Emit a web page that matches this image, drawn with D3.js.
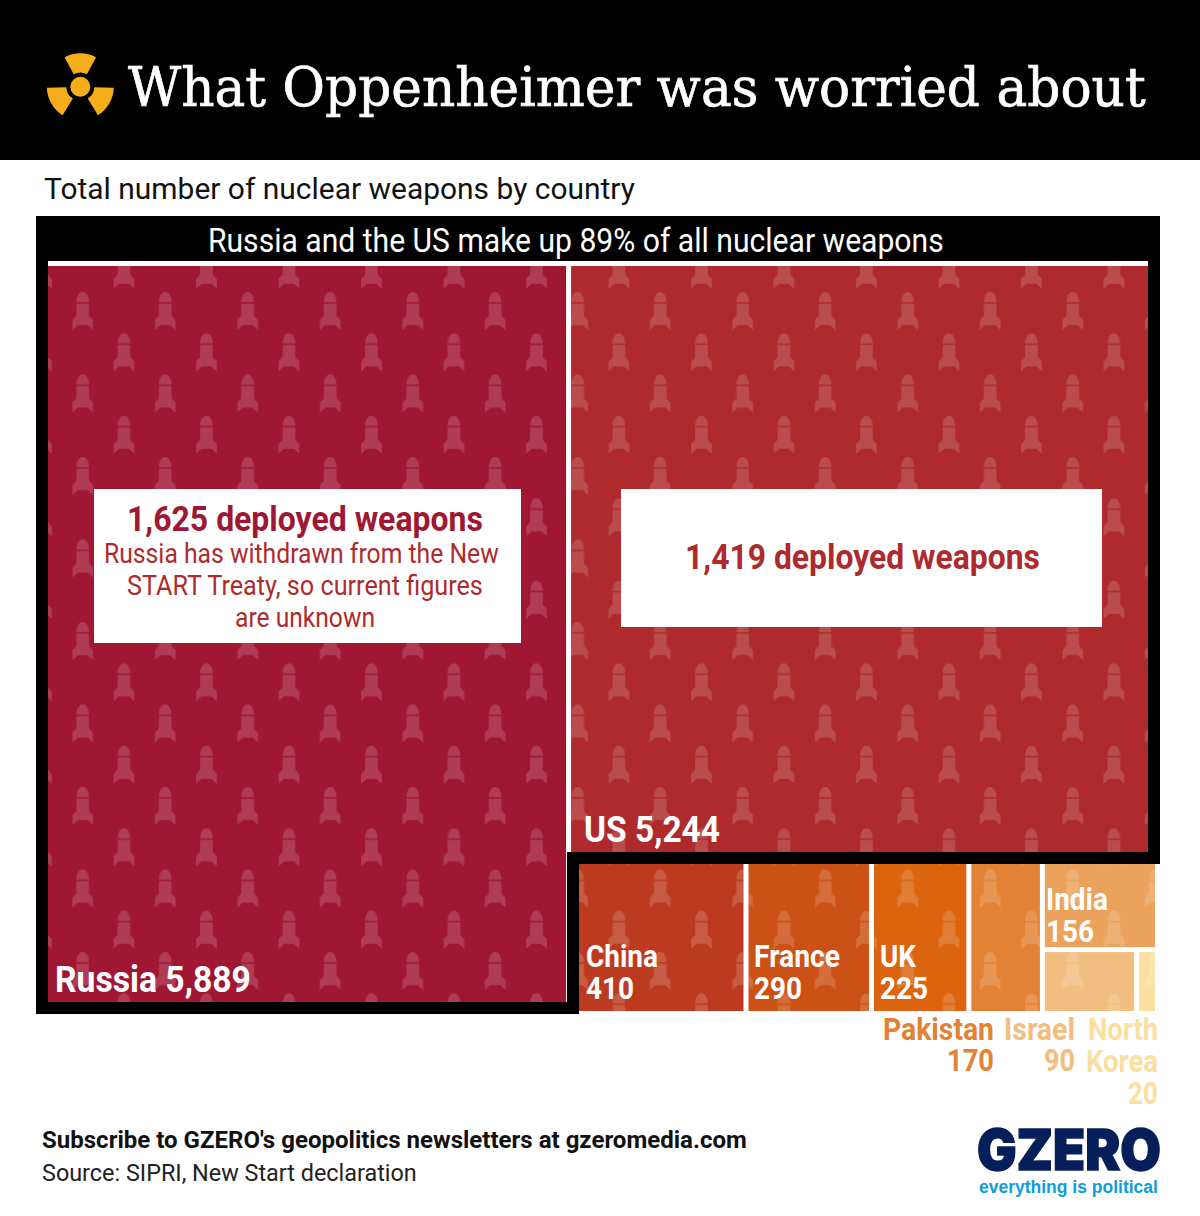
<!DOCTYPE html>
<html>
<head>
<meta charset="utf-8">
<script src="https://cdn.jsdelivr.net/npm/d3@7"></script>
<style>
body { margin: 0; background: #fff; }
svg { display: block; }
</style>
</head>
<body>
<svg id="chart" width="1200" height="1216"></svg>
<script>
//data
var countries = ["Russia", "US", "China", "France", "UK", "Pakistan", "India", "Israel", "North Korea"];
var weapons = [5889, 5244, 410, 290, 225, 170, 156, 90, 20];
var colours = ["#a01733", "#ae2a2c", "#bc3b20", "#cc5116", "#dc640e", "#e38234", "#eaa25c", "#f2be7f", "#fbdfa1"];

var titleText = "What Oppenheimer was worried about";
var subtitleText = "Total number of nuclear weapons by country";
var bandText = "Russia and the US make up 89% of all nuclear weapons";
var russiaNote = ["Russia has withdrawn from the New", "START Treaty, so current figures", "are unknown"];
var deployedRussia = 1625;
var deployedUS = 1419;

var fmt = d3.format(",");
var svg = d3.select("#chart");
var defs = svg.append("defs");

var weaponsOf = function(name){
    return weapons[countries.indexOf(name)];
}
var colourOf = function(name){
    return colours[countries.indexOf(name)];
}

//same nesting as the original treemap, every level flips direction
var leaf = function(name){
    return {name: name, value: weaponsOf(name)};
}
var tree = {children: [
    leaf("Russia"),
    {children: [
        leaf("US"),
        {children: [
            leaf("China"), leaf("France"), leaf("UK"), leaf("Pakistan"),
            {children: [
                leaf("India"),
                {children: [leaf("Israel"), leaf("North Korea")]}
            ]}
        ]}
    ]}
]};

var root = d3.hierarchy(tree).sum(function(d){ return d.value || 0; });
d3.treemap()
    .tile(d3.treemapSliceDice)
    .size([1109, 745])
    .paddingInner(5)(root);

var mapLeft = 46;
var mapTop = 266;

//rocket wallpaper, in page coordinates so it runs across the cells
var pattern = defs.append("pattern")
    .attr("id", "rockets")
    .attr("patternUnits", "userSpaceOnUse")
    .attr("x", 0.2)
    .attr("y", 44.5)
    .attr("width", 82.5)
    .attr("height", 82.5);

var rocketBody = "M0,0 C4,0 6.3,5 6.3,10.3 L-6.3,10.3 C-6.3,5 -4,0 0,0 Z " +
    "M-6.3,11.6 L6.3,11.6 L6.3,24 L10.3,28 L10.3,38 L5,33 L-5,33 L-10.3,38 L-10.3,28 L-6.3,24 Z";

[[0, 0], [82.5, 0], [41.25, 41.25], [41.25, -41.25], [0, 82.5], [82.5, 82.5]].forEach(function(p){
    pattern.append("path")
        .attr("d", rocketBody)
        .attr("transform", "translate(" + p[0] + "," + p[1] + ")")
        .attr("fill", "#fff")
        .attr("fill-opacity", 0.16);
});

//header
svg.append("rect").attr("width", 1200).attr("height", 160).attr("fill", "#000");

var arc = d3.arc().innerRadius(14).outerRadius(33.5);
var icon = svg.append("g").attr("transform", "translate(80.3,86.7)").attr("fill", "#f5ae1a");
icon.append("circle").attr("r", 10);
[0, 120, 240].forEach(function(a){
    var mid = a * Math.PI / 180;
    icon.append("path").attr("d", arc({startAngle: mid - 0.49, endAngle: mid + 0.49}));
});

//text helper, squeezes to the width
var put = function(str, x, y, width, opts){
    var t = svg.append("text")
        .attr("font-family", opts.family || "Roboto")
        .attr("font-size", opts.size)
        .attr("font-weight", opts.weight || 400)
        .attr("fill", opts.fill || "#000")
        .text(str);
    var k = width / t.node().getComputedTextLength();
    t.attr("transform", "translate(" + x + "," + y + ") scale(" + k + ",1)");
    if(opts.stroke){
        t.attr("stroke", opts.fill).attr("stroke-width", opts.stroke);
    }
    return t;
}

put(titleText, 128, 106, 1018, {family: "DejaVu Serif", size: 55, fill: "#fff", stroke: 0.7});
put(subtitleText, 44, 199, 591, {size: 30, fill: "#111"});

//cells
var leaves = root.leaves();

svg.selectAll("rect.cell")
    .data(leaves)
    .enter().append("rect")
    .attr("class", "cell")
    .attr("x", function(d){ return mapLeft + d.x0; })
    .attr("y", function(d){ return mapTop + d.y0; })
    .attr("width", function(d){ return d.x1 - d.x0; })
    .attr("height", function(d){ return d.y1 - d.y0; })
    .attr("fill", function(d){ return colourOf(d.data.name); });

svg.selectAll("rect.over")
    .data(leaves)
    .enter().append("rect")
    .attr("class", "over")
    .attr("x", function(d){ return mapLeft + d.x0; })
    .attr("y", function(d){ return mapTop + d.y0; })
    .attr("width", function(d){ return d.x1 - d.x0; })
    .attr("height", function(d){ return d.y1 - d.y0; })
    .attr("fill", "url(#rockets)");

//black frame round Russia + US, and the band on top
svg.append("rect").attr("x", 36).attr("y", 216).attr("width", 1124).attr("height", 45).attr("fill", "#000");
svg.append("rect").attr("x", 48).attr("y", 261).attr("width", 1100).attr("height", 5).attr("fill", "#fff");
svg.append("path")
    .attr("d", "M42,222 L1154,222 L1154,858 L573,858 L573,1008 L42,1008 Z")
    .attr("fill", "none")
    .attr("stroke", "#000")
    .attr("stroke-width", 12)
    .attr("stroke-linejoin", "miter");

put(bandText, 208, 252, 736, {size: 34, fill: "#fff"});

//callouts
svg.append("rect").attr("x", 94).attr("y", 489).attr("width", 427).attr("height", 154).attr("fill", "#fff");
svg.append("rect").attr("x", 621).attr("y", 489).attr("width", 481).attr("height", 138).attr("fill", "#fff");

put(fmt(deployedRussia) + " deployed weapons", 127, 531, 356, {size: 35, weight: 700, fill: colourOf("Russia")});
put(russiaNote[0], 104, 563, 395, {size: 27, fill: colourOf("US")});
put(russiaNote[1], 127, 595, 356, {size: 27, fill: colourOf("US")});
put(russiaNote[2], 235, 627, 140, {size: 27, fill: colourOf("US")});
put(fmt(deployedUS) + " deployed weapons", 685, 569, 355, {size: 35, weight: 700, fill: colourOf("US")});

//country labels
var bold = {size: 37, weight: 700, fill: "#fff"};
var small = {size: 31, weight: 700, fill: "#fff"};

put("Russia " + fmt(weaponsOf("Russia")), 55, 992, 196, bold);
put("US " + fmt(weaponsOf("US")), 584, 842, 136, bold);

put("China", 586, 967, 72, small);
put(fmt(weaponsOf("China")), 586, 999, 48, small);
put("France", 754, 967, 86, small);
put(fmt(weaponsOf("France")), 754, 999, 48, small);
put("UK", 880, 967, 36, small);
put(fmt(weaponsOf("UK")), 880, 999, 48, small);
put("India", 1046, 910, 62, small);
put(fmt(weaponsOf("India")), 1046, 942, 48, small);

var outside = function(name){
    return {size: 31.5, weight: 700, fill: colourOf(name)};
}
put("Pakistan", 883, 1040, 111, outside("Pakistan"));
put(fmt(weaponsOf("Pakistan")), 947, 1071, 47, outside("Pakistan"));
put("Israel", 1004, 1040, 71, outside("Israel"));
put(fmt(weaponsOf("Israel")), 1044, 1071, 31, outside("Israel"));
put("North", 1088, 1040, 70, outside("North Korea"));
put("Korea", 1086, 1072, 72, outside("North Korea"));
put(fmt(weaponsOf("North Korea")), 1128, 1104, 30, outside("North Korea"));

//footer
put("Subscribe to GZERO's geopolitics newsletters at gzeromedia.com", 42, 1148, 705, {size: 23, weight: 700, fill: "#111"});
put("Source: SIPRI, New Start declaration", 42, 1181, 375, {size: 23, fill: "#222"});

put("GZERO", 977, 1170, 184, {family: "Inter", size: 56, weight: 900, fill: "#061f5b", stroke: 1.5});
put("everything is political", 979, 1193, 179, {family: "Liberation Sans", size: 18.5, weight: 700, fill: "#0d9ddb"});
</script>
</body>
</html>
